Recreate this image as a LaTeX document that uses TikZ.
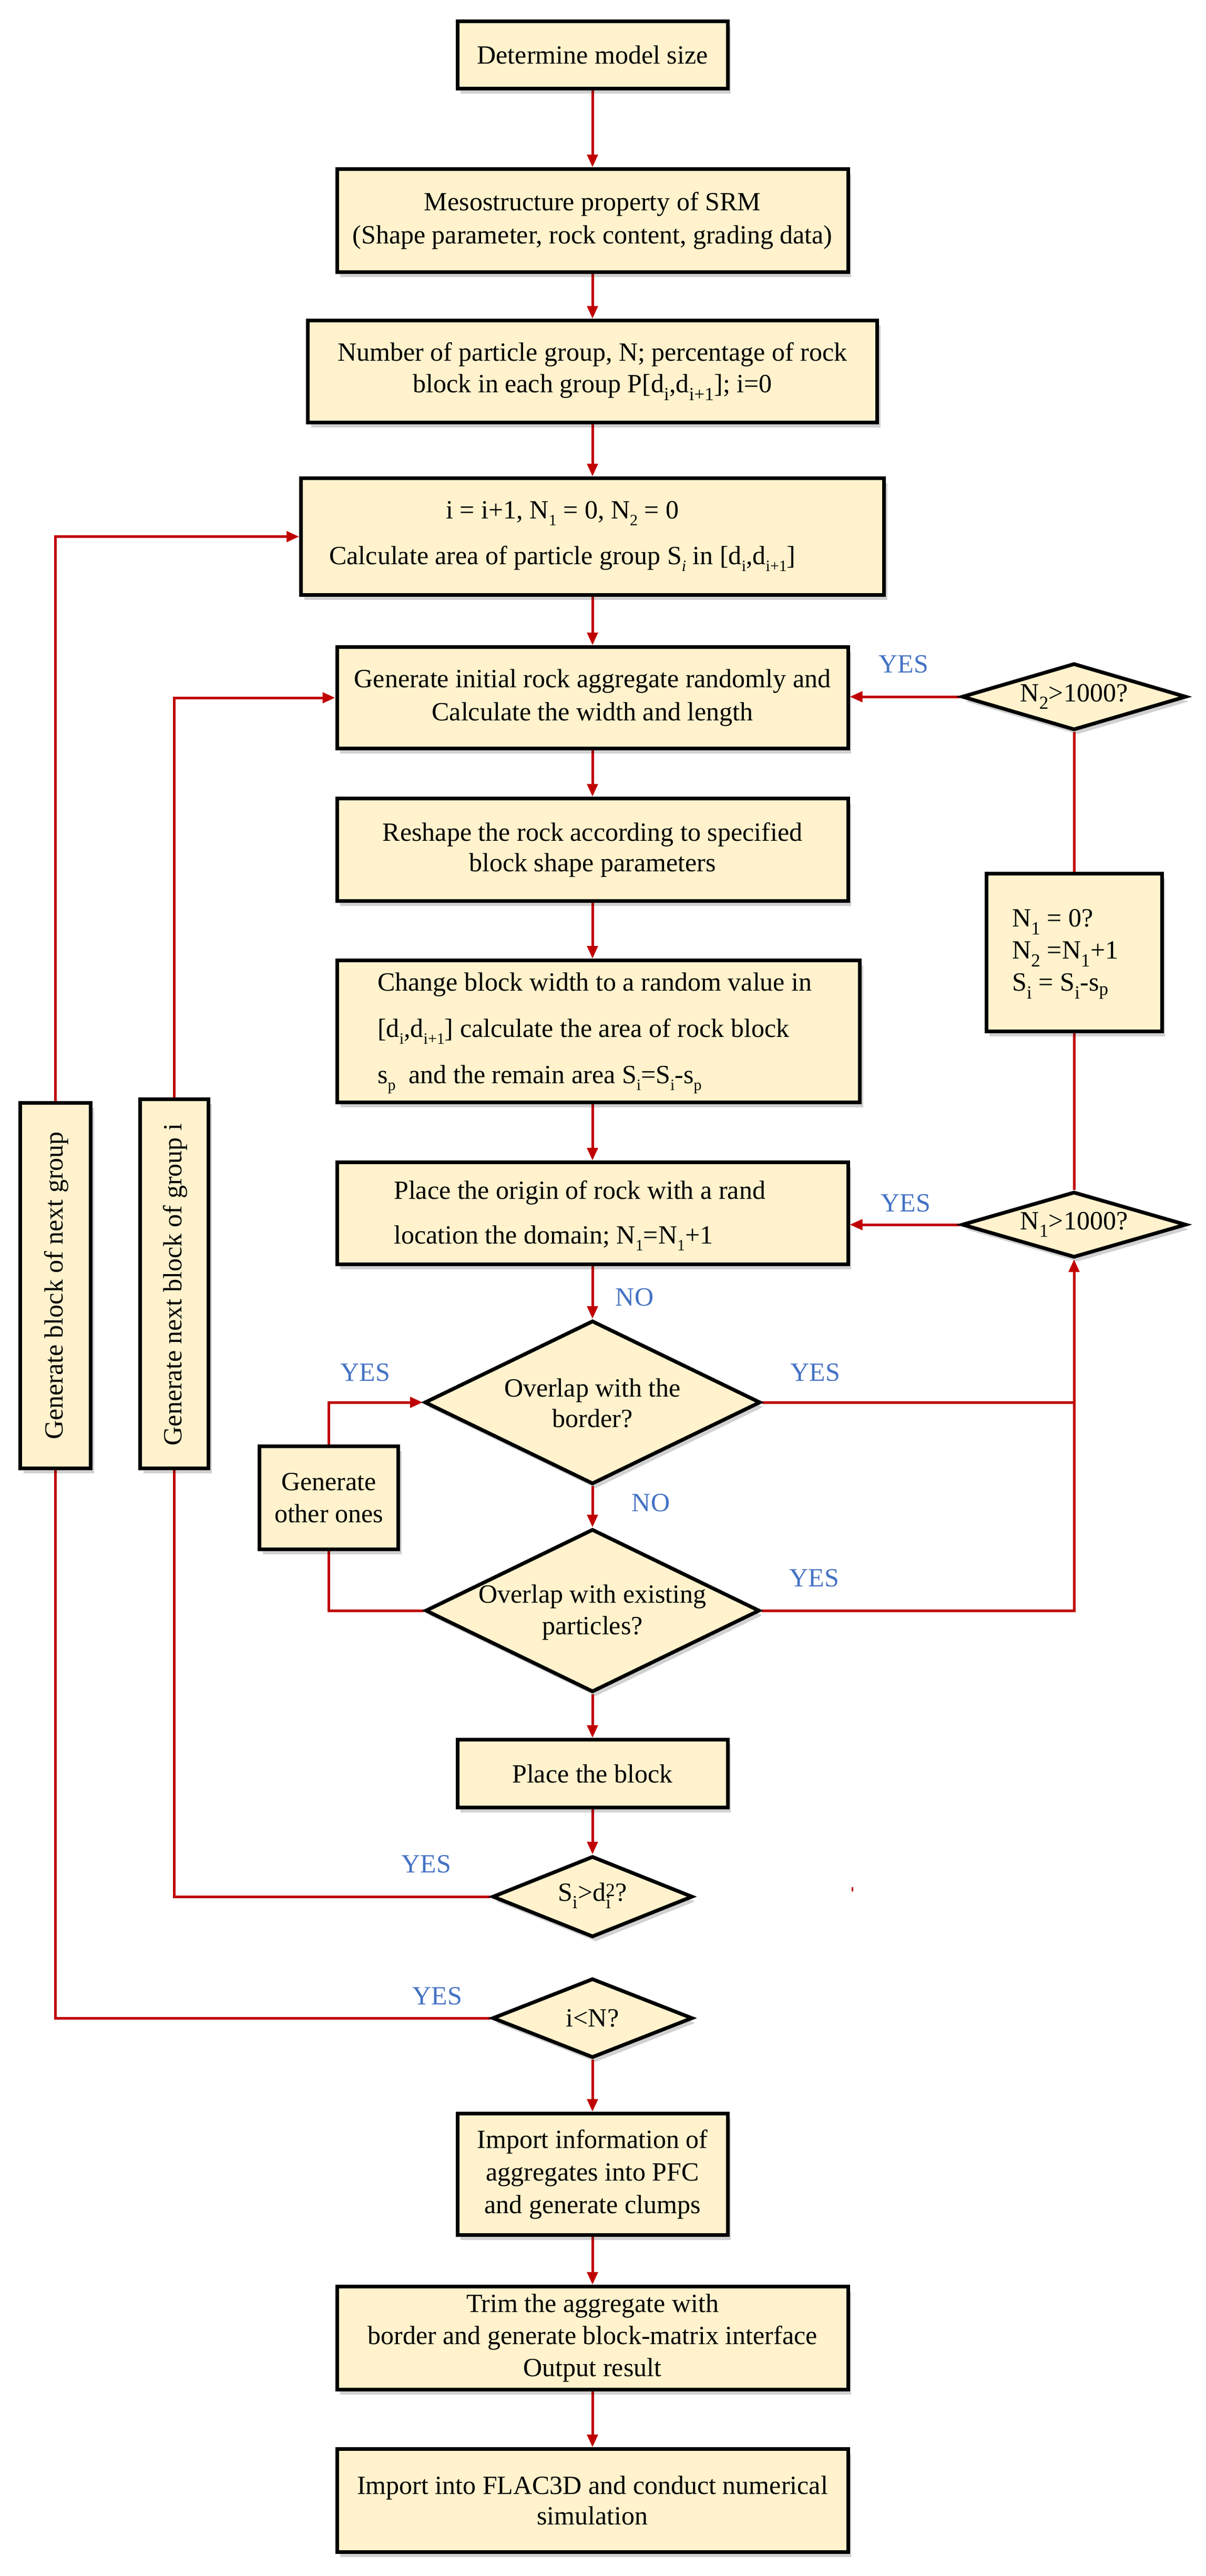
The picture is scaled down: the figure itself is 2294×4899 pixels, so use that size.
\documentclass[tikz,border=0pt]{standalone}
\usepackage{fontspec}
\setmainfont{Liberation Serif}
\usetikzlibrary{arrows.meta,shapes.geometric,shadows}
\definecolor{cream}{HTML}{FFF2CC}
\definecolor{lred}{HTML}{C00000}
\definecolor{lblue}{HTML}{4472C4}
\pgfdeclarelayer{bg}
\pgfsetlayers{bg,main}
\newcommand{\sbl}[1]{\raisebox{-0.25em}{\fontsize{30}{30}\selectfont #1}}
\newcommand{\sbn}[1]{\textsubscript{#1}}
\newcommand{\fsz}[1]{\fontsize{50}{#1}\selectfont}
\tikzset{
  wh/.style 2 args={minimum width=#1-7, minimum height=#2-7},
  procbox/.style={draw=black, line width=7pt, fill=cream, inner sep=0pt, align=center,
    font=\fsz{60},
    drop shadow={shadow xshift=6pt, shadow yshift=-9pt, opacity=0.18, fill=black}},
  decdia/.style={procbox, shape=diamond},
  txt/.style={inner sep=0pt, font=\fsz{60}, align=center},
  lab/.style={inner sep=0pt, text=lblue, font=\fsz{60}},
  conn/.style={draw=lred, line width=5pt},
  arr/.style={conn, -{Triangle[length=24pt,width=20pt]}},
}
\begin{document}
\begin{tikzpicture}[x=1pt,y=-1pt]
\useasboundingbox (0,0) rectangle (2294,4899);
% main column
\node[procbox, wh={521}{135}] (b1) at (1127,104.5) {Determine model size};
\node[procbox, wh={979}{203}, font=\fsz{63}] (b2) at (1127,419.5) {Mesostructure property of SRM\\(Shape parameter, rock content, grading data)};
\node[procbox, wh={1090}{201}] (b3) at (1127,706.5) {Number of particle group, N; percentage of rock\\block in each group P[d\sbn{i},d\sbn{i+1}]; i=0};
\node[procbox, wh={1116}{229}] (b4) at (1127,1020.5) {};
\node[txt, font=\fsz{87}] (t4) at (1070,1020) {i = i+1, N\sbl{1} = 0, N\sbl{2} = 0\\Calculate area of particle group S\sbl{\textit{i}} in [d\sbl{i},d\sbl{i+1}]};
\node[procbox, wh={979}{200}, font=\fsz{63}] (b5) at (1127,1327) {Generate initial rock aggregate randomly and\\Calculate the width and length};
\node[procbox, wh={979}{202}, font=\fsz{58}] (b6) at (1127,1616) {Reshape the rock according to specified\\block shape parameters};
\node[procbox, wh={1001}{277}] (b7) at (1138.5,1961.5) {};
\node[txt, font=\fsz{88}, align=left, anchor=west] (t7) at (718,1965) {Change block width to a random value in\\{}[d\sbl{i},d\sbl{i+1}] calculate the area of rock block\\s\sbl{p}\ \ and the remain area S\sbl{i}=S\sbl{i}-s\sbl{p}};
\node[procbox, wh={979}{201}] (b8) at (1127,2307.5) {};
\node[txt, font=\fsz{85}, align=left, anchor=west] (t8) at (749,2312) {Place the origin of rock with a rand\\location the domain; N\sbl{1}=N\sbl{1}+1};
\node[decdia, wh={646}{318}] (d1) at (1127,2667) {};
\node[txt, font=\fsz{58}] (td1) at (1127,2668) {Overlap with the\\border?};
\node[procbox, wh={271}{203}, font=\fsz{61}] (g) at (625.5,2848.5) {Generate\\other ones};
\node[decdia, wh={643}{317}] (d2) at (1127,3063) {};
\node[txt, font=\fsz{60}] (td2) at (1127,3066) {Overlap with existing\\particles?};
\node[procbox, wh={521}{136}] (b9) at (1127,3373) {Place the block};
\node[decdia, wh={388}{161}] (d3) at (1127,3607) {};
\node[txt] (td3) at (1127,3605) {S\sbn{i}>d\rlap{\textsuperscript{2}}\sbn{i}\,?};
\node[decdia, wh={388}{158}] (d4) at (1127,3838) {};
\node[txt] (td4) at (1127,3838) {i<N?};
\node[procbox, wh={521}{238}, font=\fsz{62}] (b10) at (1127,4135) {Import information of\\aggregates into PFC\\and generate clumps};
\node[procbox, wh={979}{203}, font=\fsz{61}] (b11) at (1127,4446.5) {Trim the aggregate with\\border and generate block-matrix interface\\Output result};
\node[procbox, wh={979}{203}, font=\fsz{58}] (b12) at (1127,4755.5) {Import into FLAC3D and conduct numerical\\simulation};
% right column
\node[decdia, wh={434}{134}] (r1) at (2043,1325) {};
\node[txt] (tr1) at (2043,1325) {N\sbn{2}>1000?};
\node[procbox, wh={341}{307}] (r2) at (2043,1811.5) {};
\node[txt, font=\fsz{61}, align=left, anchor=west] (tr2) at (1925,1815) {N\sbn{1} = 0?\\N\sbn{2} =N\sbn{1}+1\\S\sbn{i} = S\sbn{i}-s\sbn{p}};
\node[decdia, wh={434}{132}] (r3) at (2043,2329) {};
\node[txt] (tr3) at (2043,2329) {N\sbn{1}>1000?};
% left column
\node[procbox, wh={141}{702}] (l1) at (105.5,2445) {};
\node[txt, rotate=90] (tl1) at (107,2445) {Generate block of next group};
\node[procbox, wh={137}{709}] (l2) at (331.5,2441.5) {};
\node[txt, rotate=90] (tl2) at (333,2443) {Generate next block of group i};
% labels
\node[lab] (y1) at (1719,1263) {YES};
\node[lab] (y2) at (1723,2288) {YES};
\node[lab] (n1) at (1207,2467) {NO};
\node[lab] (y3) at (695,2610) {YES};
\node[lab] (y4) at (1551,2610) {YES};
\node[lab] (n2) at (1238,2858) {NO};
\node[lab] (y5) at (1549,3001) {YES};
\node[lab] (y6) at (811,3545) {YES};
\node[lab] (y7) at (832,3796) {YES};
\coordinate (j1) at (d1.east -| r3.south);
\begin{pgfonlayer}{bg}
\draw[arr] (b1.south) -- (b2.north);
\draw[arr] (b2.south) -- (b3.north);
\draw[arr] (b3.south) -- (b4.north);
\draw[arr] (b4.south) -- (b5.north);
\draw[arr] (b5.south) -- (b6.north);
\draw[arr] (b6.south) -- (b6.south |- b7.north);
\draw[arr] (b7.south -| b8.north) -- (b8.north);
\draw[arr] (b8.south) -- (d1.north);
\draw[arr] (d1.south) -- (d2.north);
\draw[arr] (d2.south) -- (b9.north);
\draw[arr] (b9.south) -- (d3.north);
\draw[arr] (d4.south) -- (b10.north);
\draw[arr] (b10.south) -- (b11.north);
\draw[arr] (b11.south) -- (b12.north);
\draw[conn] (d3.west) -| (l2.south);
\draw[arr] (l2.north) |- (b5.west);
\draw[conn] (d4.west) -| (l1.south);
\draw[arr] (l1.north) |- (b4.west);
\draw[arr] (d1.east) -| (r3.south);
\draw[conn] (d2.east) -| (j1);
\draw[arr] (r3.west) -- (r3.west -| b8.east);
\draw[conn] (r3.north) -- (r2.south);
\draw[conn] (r2.north) -- (r1.south);
\draw[arr] (r1.west) -- (r1.west -| b5.east);
\draw[arr] (g.north) |- (d1.west);
\draw[conn] (g.south) |- (d2.west);
\draw[conn, line width=3pt] (1621,3589) -- (1621,3597);
\end{pgfonlayer}
\end{tikzpicture}
\end{document}
